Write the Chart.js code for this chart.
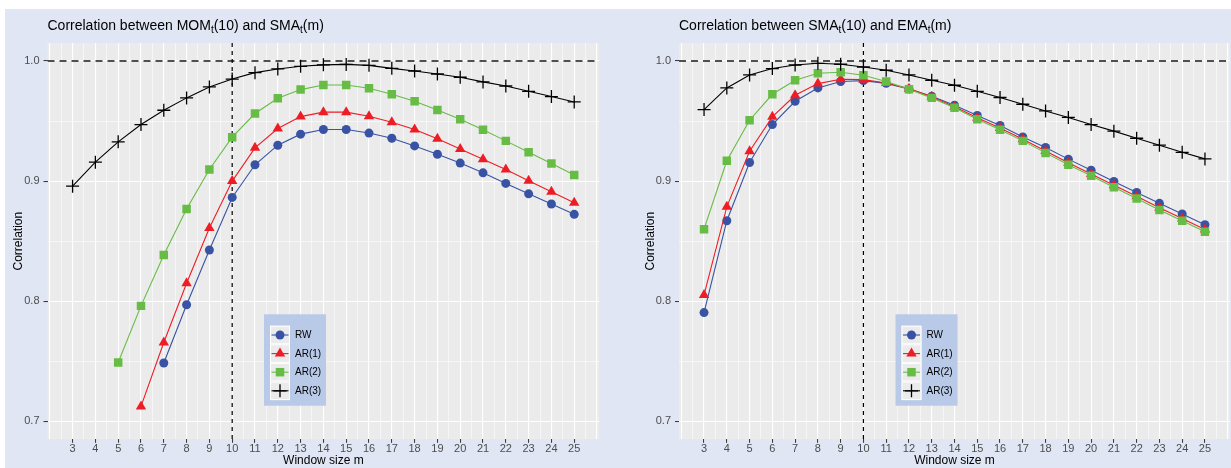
<!DOCTYPE html>
<html>
<head>
<meta charset="utf-8">
<script src="https://cdn.jsdelivr.net/npm/chart.js@4.4.1/dist/chart.umd.min.js"></script>
<style>
html,body{margin:0;padding:0;background:#ffffff;width:1231px;height:468px;overflow:hidden;}
body{position:relative;}
#bg{position:absolute;left:5px;top:9px;width:1226px;height:459px;background:#E0E6F3;}
.wrap{position:absolute;top:0;height:468px;width:640px;}
#w1{left:0;}
#w2{left:615px;}
canvas{display:block;}
</style>
</head>
<body>
<div id="bg"></div>
<div class="wrap" id="w1"><canvas id="c1" width="640" height="468"></canvas></div>
<div class="wrap" id="w2"><canvas id="c2" width="640" height="468"></canvas></div>
<script>
// ---------- data ----------
const windowSizes = [3,4,5,6,7,8,9,10,11,12,13,14,15,16,17,18,19,20,21,22,23,24,25];
const seriesNames = ['RW','AR(1)','AR(2)','AR(3)'];

// Left panel: Correlation between MOM_t(10) and SMA_t(m)
const momRW  = [null,null,null,null,0.7485,0.7970,0.8426,0.8864,0.9136,0.9299,0.9391,0.9430,0.9430,0.9400,0.9357,0.9293,0.9224,0.9150,0.9069,0.8981,0.8894,0.8809,0.8723];
const momAR1 = [null,null,null,0.7124,0.7656,0.8150,0.8610,0.9000,0.9277,0.9438,0.9537,0.9574,0.9574,0.9540,0.9490,0.9430,0.9352,0.9268,0.9183,0.9097,0.9002,0.8911,0.8820];
const momAR2 = [null,null,0.7490,0.7961,0.8385,0.8767,0.9097,0.9366,0.9563,0.9690,0.9762,0.9800,0.9800,0.9773,0.9723,0.9665,0.9593,0.9515,0.9427,0.9335,0.9241,0.9147,0.9050];
const momAR3 = [0.8958,0.9158,0.9327,0.9471,0.9590,0.9693,0.9784,0.9850,0.9903,0.9934,0.9956,0.9968,0.9972,0.9964,0.9939,0.9917,0.9892,0.9865,0.9826,0.9792,0.9748,0.9704,0.9659];

// Right panel: Correlation between SMA_t(10) and EMA_t(m)
const emaRW  = [0.7905,0.8670,0.9155,0.9471,0.9665,0.9776,0.9829,0.9837,0.9814,0.9767,0.9707,0.9632,0.9546,0.9463,0.9368,0.9280,0.9183,0.9091,0.8997,0.8906,0.8815,0.8726,0.8637];
const emaAR1 = [0.8052,0.8786,0.9249,0.9535,0.9715,0.9812,0.9848,0.9845,0.9817,0.9770,0.9702,0.9620,0.9528,0.9442,0.9348,0.9250,0.9152,0.9060,0.8965,0.8873,0.8778,0.8688,0.8597];
const emaAR2 = [0.8600,0.9169,0.9507,0.9723,0.9840,0.9898,0.9906,0.9881,0.9829,0.9765,0.9693,0.9610,0.9515,0.9427,0.9335,0.9235,0.9136,0.9044,0.8948,0.8856,0.8759,0.8670,0.8579];
const emaAR3 = [0.9596,0.9776,0.9884,0.9937,0.9967,0.9981,0.9973,0.9950,0.9923,0.9884,0.9840,0.9798,0.9748,0.9696,0.9640,0.9584,0.9530,0.9471,0.9416,0.9357,0.9299,0.9240,0.9185];

// ticks
const xTickValues = [3,4,5,6,7,8,9,10,11,12,13,14,15,16,17,18,19,20,21,22,23,24,25];
const xGridValues = [2,2.5,3,3.5,4,4.5,5,5.5,6,6.5,7,7.5,8,8.5,9,9.5,10,10.5,11,11.5,12,12.5,13,13.5,14,14.5,15,15.5,16,16.5,17,17.5,18,18.5,19,19.5,20,20.5,21,21.5,22,22.5,23,23.5,24,24.5,25,25.5,26];
const yTickValues = [0.7,0.8,0.9,1.0];
const yTickLabels = ['0.7','0.8','0.9','1.0'];
const yGridValues = [0.7,0.75,0.8,0.85,0.9,0.95,1.0];
const refX = 10;
const refY = 1.0;

const leftTitle  = [['Correlation between MOM',0],['t',1],['(10) and SMA',0],['t',1],['(m)',0]];
const rightTitle = [['Correlation between SMA',0],['t',1],['(10) and EMA',0],['t',1],['(m)',0]];

// ---------- styles ----------
const FONT = '"Liberation Sans", Arial, Helvetica, sans-serif';
Chart.defaults.font.family = FONT;
const COLORS = ['#3953A4','#EE1D25','#67BC45','#000000'];
const STYLES = ['circle','triangle','rect','cross'];
const RADII  = [4.5,6,6,6.5];

function isMajorX(v){ return Math.abs(v - Math.round(v)) < 1e-6; }
function isMajorY(v){ return Math.abs(v*10 - Math.round(v*10)) < 1e-6; }

function makeDatasets(vals){
  return vals.map((arr,i)=>({
    label: seriesNames[i],
    data: windowSizes.map((m,j)=>({x:m, y:arr[j]})).filter(p=>p.y!==null),
    borderColor: COLORS[i],
    backgroundColor: COLORS[i],
    borderWidth: 1.1,
    pointStyle: STYLES[i],
    pointRadius: RADII[i],
    pointBackgroundColor: COLORS[i],
    pointBorderColor: COLORS[i],
    pointBorderWidth: STYLES[i]==='cross' ? 1.3 : 0,
    tension: 0,
    order: 4 - i
  }));
}

function drawMarker(ctx, style, color, r, x, y){
  ctx.save();
  ctx.fillStyle = color; ctx.strokeStyle = color;
  ctx.beginPath();
  if (style==='circle'){ ctx.arc(x,y,r,0,Math.PI*2); ctx.fill(); }
  else if (style==='triangle'){
    for (let k=0;k<3;k++){ const a = k*2*Math.PI/3; const px = x+Math.sin(a)*r, py = y-Math.cos(a)*r; k?ctx.lineTo(px,py):ctx.moveTo(px,py);}
    ctx.closePath(); ctx.fill();
  } else if (style==='rect'){ const s = Math.SQRT1_2*r; ctx.rect(x-s,y-s,2*s,2*s); ctx.fill(); }
  else { ctx.lineWidth=1.3; ctx.moveTo(x-r,y); ctx.lineTo(x+r,y); ctx.moveTo(x,y-r); ctx.lineTo(x,y+r); ctx.stroke(); }
  ctx.restore();
}

const panelPlugin = {
  id: 'panel',
  beforeDraw(chart){
    const {ctx, chartArea:a} = chart;
    ctx.save(); ctx.fillStyle = '#EBEBEB';
    ctx.fillRect(a.left, a.top, a.right-a.left, a.bottom-a.top);
    ctx.restore();
  },
  beforeDatasetsDraw(chart){
    const {ctx, chartArea:a, scales} = chart;
    ctx.save();
    ctx.beginPath(); ctx.rect(a.left,a.top,a.right-a.left,a.bottom-a.top); ctx.clip();
    const y1 = scales.y.getPixelForValue(refY);
    ctx.strokeStyle = '#505050'; ctx.lineWidth = 1.8; ctx.setLineDash([7,5]);
    ctx.beginPath(); ctx.moveTo(a.left,y1); ctx.lineTo(a.right,y1); ctx.stroke();
    const x1 = scales.x.getPixelForValue(refX);
    ctx.strokeStyle = '#000000'; ctx.lineWidth = 1.2; ctx.setLineDash([4,4]);
    ctx.beginPath(); ctx.moveTo(x1,a.top); ctx.lineTo(x1,a.bottom); ctx.stroke();
    ctx.restore();
  },
  afterDraw(chart, args, opts){
    const {ctx, chartArea:a} = chart;
    ctx.save();
    ctx.fillStyle = '#000'; ctx.textBaseline = 'middle'; ctx.textAlign = 'left';
    let x = a.left; const y = 26;
    for (const [txt, sub] of opts.title){
      ctx.font = (sub ? '10px ' : '14px ') + FONT;
      ctx.fillText(txt, x, sub ? y+4 : y);
      x += ctx.measureText(txt).width;
    }
    ctx.restore();
    const lx = a.left + 216.5, ly = a.top + 271.3, lw = 62, lh = 91.4;
    ctx.save();
    ctx.fillStyle = '#B9C9E8'; ctx.fillRect(lx, ly, lw, lh);
    const kh = 18.6, kw = 20;
    chart.data.datasets.forEach((ds,i)=>{
      const ky = ly + 11.4 + i*kh, kx = lx + 6;
      ctx.fillStyle = '#EBEBEB'; ctx.fillRect(kx, ky, kw, kh);
      ctx.strokeStyle = '#FFFFFF'; ctx.lineWidth = 1; ctx.strokeRect(kx+0.5, ky+0.5, kw-1, kh-1);
      const cy = ky + kh/2;
      ctx.strokeStyle = ds.borderColor; ctx.lineWidth = 1.1;
      ctx.beginPath(); ctx.moveTo(kx+1.5, cy); ctx.lineTo(kx+kw-1.5, cy); ctx.stroke();
      drawMarker(ctx, ds.pointStyle, ds.borderColor, ds.pointRadius, kx+kw/2, cy);
      ctx.fillStyle = '#000'; ctx.font = '10px ' + FONT; ctx.textBaseline = 'middle'; ctx.textAlign='left';
      ctx.fillText(ds.label, lx + 31, cy + 0.5);
    });
    ctx.restore();
  }
};

function makeChart(id, vals, title, padLeft, target){
  const chart = new Chart(document.getElementById(id), {
    type: 'line',
    data: { datasets: makeDatasets(vals) },
    plugins: [panelPlugin],
    options: {
      responsive: false,
      animation: false,
      events: [],
      layout: { padding: { left: padLeft, top: target.top, right: 640 - target.right, bottom: 0 } },
      plugins: {
        legend: { display: false },
        tooltip: { enabled: false },
        title: { display: false },
        panel: { title: title }
      },
      scales: {
        x: {
          type: 'linear', min: 1.9, max: 26.1,
          afterBuildTicks(s){ s.ticks = xGridValues.map(v=>({value:v})); },
          afterFit(s){ s.height = s.chart.$xh || (468 - target.bottom); },
          ticks: {
            autoSkip: false, maxRotation: 0, minRotation: 0, padding: 0,
            color: '#4D4D4D', font: { size: 11 },
            callback: (v)=> xTickValues.includes(v) ? String(v) : ''
          },
          grid: {
            color: '#FFFFFF',
            lineWidth: (c)=> isMajorX(c.tick.value) ? 1.1 : 0.55,
            drawTicks: true, tickLength: 3.5,
            tickColor: (c)=> xTickValues.includes(c.tick.value) ? '#333333' : 'rgba(0,0,0,0)',
            tickWidth: 1
          },
          border: { display: false },
          title: { display: true, text: 'Window size m', color: '#000', font: { size: 12 }, padding: { top: 0, bottom: 0 } }
        },
        y: {
          type: 'linear', min: 0.685, max: 1.015,
          afterBuildTicks(s){ s.ticks = yGridValues.map(v=>({value:v})); },
          afterFit(s){ s.width = s.chart.$yw || (target.left - padLeft); },
          ticks: {
            autoSkip: false, padding: 4, color: '#4D4D4D', font: { size: 11 },
            callback: (v)=> { const k = yTickValues.findIndex(t=>Math.abs(t-v)<1e-6); return k>=0 ? yTickLabels[k] : ''; }
          },
          grid: {
            color: '#FFFFFF',
            lineWidth: (c)=> isMajorY(c.tick.value) ? 1.1 : 0.55,
            drawTicks: true, tickLength: 4,
            tickColor: (c)=> isMajorY(c.tick.value) ? '#333333' : 'rgba(0,0,0,0)',
            tickWidth: 1
          },
          border: { display: false },
          title: { display: true, text: 'Correlation', color: '#000', font: { size: 12 }, padding: { top: 11, bottom: 0 } }
        }
      }
    }
  });
  // nudge layout so the plotting panel lands exactly on the target box
  chart.$yw = target.left - padLeft;
  chart.$xh = 468 - target.bottom;
  for (let k = 0; k < 3; k++){
    const a = chart.chartArea;
    const p = chart.options.layout.padding;
    p.right += a.right - target.right;
    p.top += target.top - a.top;
    chart.$yw += target.left - a.left;
    chart.$xh += a.bottom - target.bottom;
    chart.update();
  }
  return chart;
}

makeChart('c1', [momRW, momAR1, momAR2, momAR3], leftTitle, 0,  {left: 47.5, right: 599.3, top: 43, bottom: 439.3});
makeChart('c2', [emaRW, emaAR1, emaAR2, emaAR3], rightTitle, 17, {left: 64, right: 615, top: 43, bottom: 439.3});
</script>
</body>
</html>
